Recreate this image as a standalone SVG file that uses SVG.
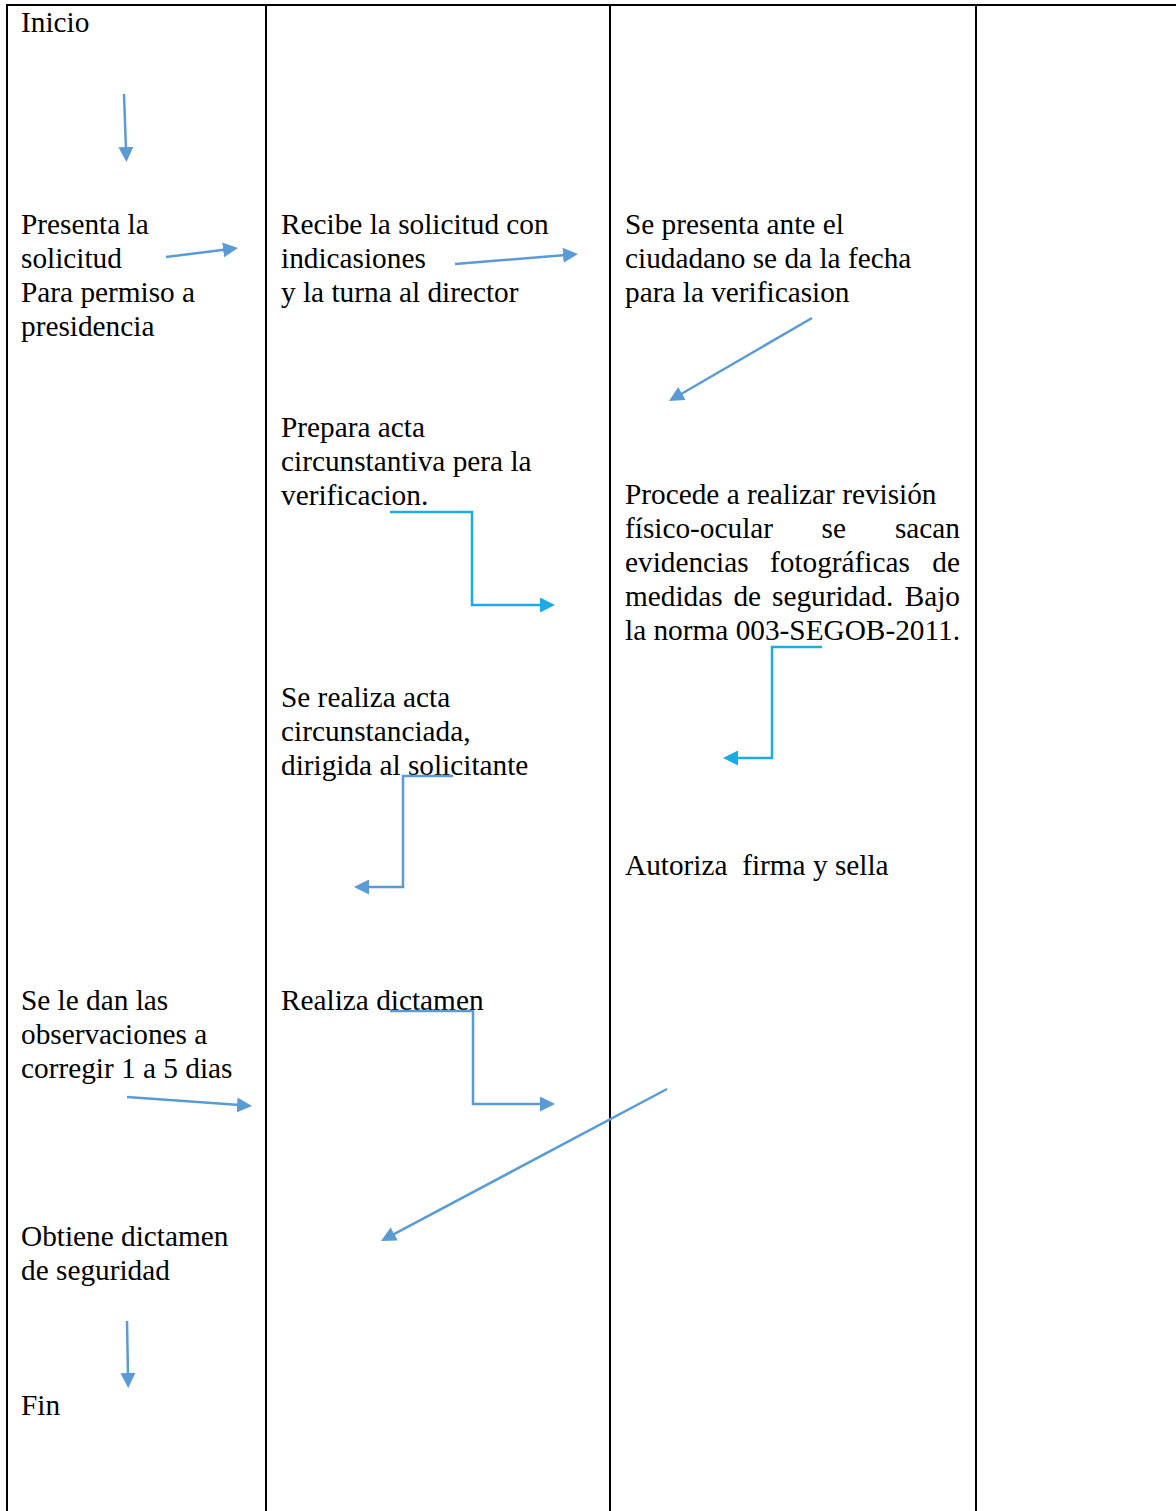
<svg xmlns="http://www.w3.org/2000/svg" width="1176" height="1511" viewBox="0 0 1176 1511">
  <style>
    text { font-family: "Liberation Serif", "Times New Roman", serif; font-size: 29.3px; fill: #000; }
    .frame { stroke: #000; stroke-width: 2; fill: none; }
    .arr { fill: none; stroke: #5B9BD5; stroke-width: 2.5; marker-end: url(#headBlue); }
    .arr2 { fill: none; stroke: #1DABE5; stroke-width: 2.5; marker-end: url(#headCyan); }
  </style>
  <defs>
    <marker id="headBlue" markerUnits="userSpaceOnUse" markerWidth="15" markerHeight="15" refX="3" refY="7.5" orient="auto">
      <path d="M0,0 L15,7.5 L0,15 Z" fill="#5B9BD5"/>
    </marker>
    <marker id="headCyan" markerUnits="userSpaceOnUse" markerWidth="15" markerHeight="15" refX="3" refY="7.5" orient="auto">
      <path d="M0,0 L15,7.5 L0,15 Z" fill="#1DABE5"/>
    </marker>
  </defs>

  <rect width="1176" height="1511" fill="#fff"/>

  <!-- table grid: four lanes -->
  <g id="lanes">
    <line class="frame" x1="6" y1="5" x2="1176" y2="5"/>
    <line class="frame" x1="7" y1="5" x2="7" y2="1511"/>
    <line class="frame" x1="266" y1="5" x2="266" y2="1511"/>
    <line class="frame" x1="610" y1="5" x2="610" y2="1511"/>
    <line class="frame" x1="976" y1="5" x2="976" y2="1511"/>
  </g>

  <!-- lane 1 -->
  <g id="inicio"><text x="21" y="32">Inicio</text></g>
  <g id="presenta">
    <text x="21" y="234">Presenta la</text>
    <text x="21" y="268">solicitud</text>
    <text x="21" y="302">Para permiso a</text>
    <text x="21" y="336">presidencia</text>
  </g>
  <g id="observaciones">
    <text x="21" y="1010">Se le dan las</text>
    <text x="21" y="1044">observaciones a</text>
    <text x="21" y="1078">corregir 1 a 5 dias</text>
  </g>
  <g id="obtiene">
    <text x="21" y="1246">Obtiene dictamen</text>
    <text x="21" y="1280">de seguridad</text>
  </g>
  <g id="fin"><text x="21" y="1415">Fin</text></g>

  <!-- lane 2 -->
  <g id="recibe">
    <text x="281" y="234">Recibe la solicitud con</text>
    <text x="281" y="268">indicasiones</text>
    <text x="281" y="302">y la turna al director</text>
  </g>
  <g id="prepara">
    <text x="281" y="437">Prepara acta</text>
    <text x="281" y="471">circunstantiva pera la</text>
    <text x="281" y="505">verificacion.</text>
  </g>
  <g id="realiza-acta">
    <text x="281" y="707">Se realiza acta</text>
    <text x="281" y="741">circunstanciada,</text>
    <text x="281" y="775">dirigida al solicitante</text>
  </g>
  <g id="dictamen"><text x="281" y="1010">Realiza dictamen</text></g>

  <!-- lane 3 -->
  <g id="presenta-ciudadano">
    <text x="625" y="234">Se presenta ante el</text>
    <text x="625" y="268">ciudadano se da la fecha</text>
    <text x="625" y="302">para la verificasion</text>
  </g>
  <g id="revision">
    <text x="625" y="504">Procede a realizar revisión</text>
    <text x="625" y="538">físico-ocular</text>
    <text x="821.5" y="538">se</text>
    <text x="960" y="538" text-anchor="end">sacan</text>
    <text x="625" y="572">evidencias</text>
    <text x="770" y="572">fotográficas</text>
    <text x="960" y="572" text-anchor="end">de</text>
    <text x="625" y="606">medidas</text>
    <text x="733.4" y="606">de</text>
    <text x="772" y="606">seguridad.</text>
    <text x="960" y="606" text-anchor="end">Bajo</text>
    <text x="625" y="640">la norma 003-SEGOB-2011.</text>
  </g>
  <g id="autoriza"><text x="625" y="875" xml:space="preserve">Autoriza  firma y sella</text></g>

  <!-- connectors -->
  <g id="connectors">
    <path class="arr" d="M124,94 L126,150"/>
    <path class="arr" d="M166,257 L226.1,249.5"/>
    <path class="arr" d="M455,264 L566,255"/>
    <path class="arr" d="M812,318 L679.4,395"/>
    <path class="arr2" d="M390,512 L472,512 L472,605 L543,605"/>
    <path class="arr2" d="M822,647 L772,647 L772,758 L735,758"/>
    <path class="arr" d="M453,776 L403,776 L403,887 L366,887"/>
    <path class="arr" d="M390,1011 L473,1011 L473,1104 L543,1104"/>
    <path class="arr" d="M127,1097 L240,1105.1"/>
    <path class="arr" d="M667,1089 L391.6,1235.4"/>
    <path class="arr" d="M127,1321 L128,1376"/>
  </g>
</svg>
